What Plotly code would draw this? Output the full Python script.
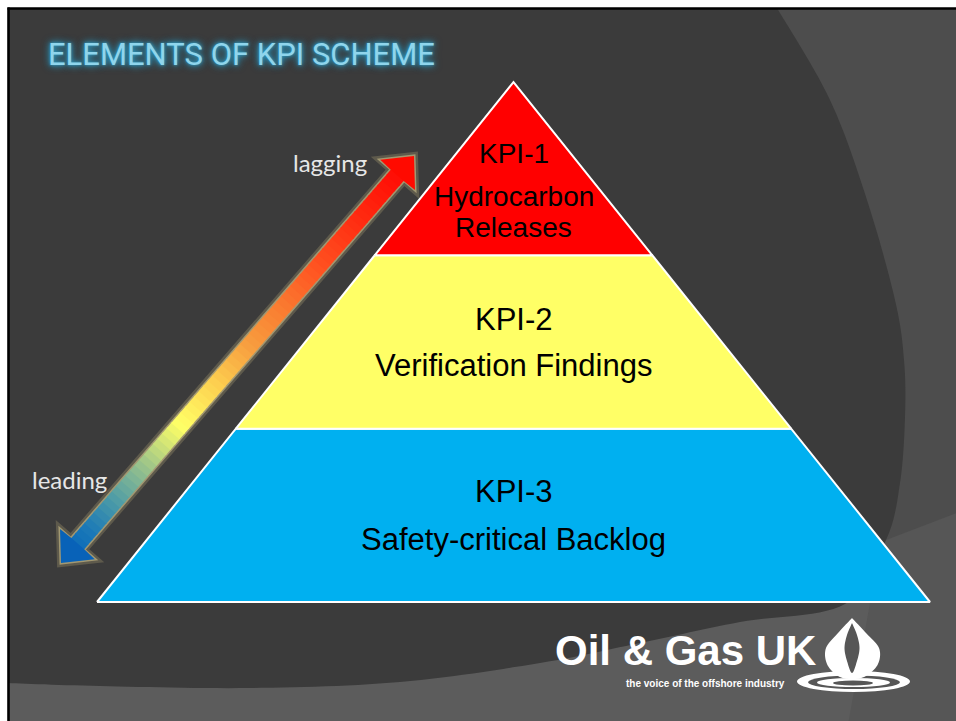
import numpy as np
import plotly.graph_objects as go

W, H = 956, 721

# ---------------- data ----------------
levels = ["KPI-1", "KPI-2", "KPI-3"]                      # top -> bottom
level_titles = [["Hydrocarbon", "Releases"],
                ["Verification Findings"],
                ["Safety-critical Backlog"]]
level_heights = [1, 1, 1]                                 # equal tiers
level_colors = ["#FF0000", "#FFFF66", "#00B0F0"]
title_text = "ELEMENTS OF KPI SCHEME"
arrow_labels = ["lagging", "leading"]
logo_name = "Oil & Gas UK"
logo_tagline = "the voice of the offshore industry"

# ---------------- style / placement (pixels) ----------------
PYR_LEFT, PYR_RIGHT, PYR_BASE, PYR_APEX = 97, 930, 602, 82
label_offsets = [[0.59, 0.342, 0.163], [0.627, 0.362], [0.635, 0.363]]
label_sizes = [[28, 28, 28], [31, 31], [31, 31]]

total = sum(level_heights)
cx = (PYR_LEFT + PYR_RIGHT) / 2
ppx = (PYR_RIGHT - PYR_LEFT) / 2
ppy = (PYR_BASE - PYR_APEX) / total
x_range = [(0 - cx) / ppx, (W - cx) / ppx]
y_range = [-(H - PYR_BASE) / ppy, PYR_BASE / ppy]


def px(x):
    return x / W


def py(y):
    return 1 - y / H


def ppath(points, close=True):
    s = "M " + " L ".join(f"{px(x):.5f},{py(y):.5f}" for x, y in points)
    return s + (" Z" if close else "")


def catmull(points, n=14):
    pts = np.array(points, dtype=float)
    ext = np.vstack([pts[0], pts, pts[-1]])
    out = []
    for i in range(1, len(ext) - 2):
        p0, p1, p2, p3 = ext[i - 1], ext[i], ext[i + 1], ext[i + 2]
        for t in np.linspace(0, 1, n, endpoint=False):
            t2, t3 = t * t, t * t * t
            pt = 0.5 * ((2 * p1) + (-p0 + p2) * t + (2 * p0 - 5 * p1 + 4 * p2 - p3) * t2
                        + (-p0 + 3 * p1 - 3 * p2 + p3) * t3)
            out.append(tuple(pt))
    out.append(tuple(pts[-1]))
    return out


def hex2rgb(h):
    h = h.lstrip("#")
    return np.array([int(h[i:i + 2], 16) for i in (0, 2, 4)], dtype=float)


shapes = []
# slide background
shapes.append(dict(type="rect", xref="paper", yref="paper", x0=px(8), y0=py(740), x1=px(980), y1=py(8),
                   fillcolor="#565656", line=dict(width=0), layer="below"))
# upper right band
shapes.append(dict(type="path", xref="paper", yref="paper", layer="below", line=dict(width=0),
                   fillcolor="#4d4d4d",
                   path=ppath([(700, 8), (970, 8), (970, 508), (886, 540), (700, 540)])))
# bottom lighter band
shapes.append(dict(type="path", xref="paper", yref="paper", layer="below", line=dict(width=0),
                   fillcolor="#5c5c5c",
                   path=ppath([(8, 560), (880, 560), (870, 603), (847, 730), (8, 730)])))
# dark swoosh
edge = catmull([(777, 8), (830, 100), (867, 200), (895, 300), (904, 360), (905, 417),
                (900, 483), (886, 540), (845, 604), (740, 622), (640, 643), (540, 663),
                (400, 682), (250, 688), (100, 686), (8, 683)])
shapes.append(dict(type="path", xref="paper", yref="paper", layer="below", line=dict(width=0),
                   fillcolor="#3b3b3b", path=ppath([(8, 8)] + edge)))
# black frame (left / top)
shapes.append(dict(type="line", xref="paper", yref="paper", layer="below", x0=px(8.5), x1=px(8.5),
                   y0=py(7.5), y1=py(740), line=dict(color="black", width=2.6)))
shapes.append(dict(type="line", xref="paper", yref="paper", layer="below", x0=px(7.5), x1=px(980),
                   y0=py(8.5), y1=py(8.5), line=dict(color="black", width=2.6)))

# ---------------- gradient double arrow ----------------
T = np.array([414.0, 156.0])
B = np.array([61.0, 563.0])
u = (T - B) / np.linalg.norm(T - B)
nrm = np.array([-u[1], u[0]])
L = np.linalg.norm(T - B)
hl, hw, sw = 25.0, 23.0, 8.5
outline = [T, T - hl * u + hw * nrm, T - hl * u + sw * nrm, B + hl * u + sw * nrm,
           B + hl * u + hw * nrm, B, B + hl * u - hw * nrm, B + hl * u - sw * nrm,
           T - hl * u - sw * nrm, T - hl * u - hw * nrm]
outline = [tuple(p) for p in outline]
shapes.append(dict(type="path", xref="paper", yref="paper", layer="below",
                   fillcolor="rgba(160,148,110,0.35)", line=dict(color="rgba(160,148,110,0.35)", width=8),
                   path=ppath(outline)))
shapes.append(dict(type="path", xref="paper", yref="paper", layer="below",
                   fillcolor="rgba(170,158,118,0.9)", line=dict(color="rgba(170,158,118,0.9)", width=3),
                   path=ppath(outline)))

stops = [(0.00, "#0060b8"), (0.08, "#1a78b8"), (0.15, "#4a9aa8"), (0.24, "#9cc48a"),
         (0.34, "#ffff66"), (0.44, "#fdd050"), (0.53, "#f7a040"), (0.63, "#fa7a30"),
         (0.72, "#ff5522"), (0.85, "#ff2a10"), (1.00, "#ff0000")]


def grad(t):
    for (t0, c0), (t1, c1) in zip(stops[:-1], stops[1:]):
        if t <= t1:
            f = (t - t0) / (t1 - t0)
            c = hex2rgb(c0) * (1 - f) + hex2rgb(c1) * f
            return "rgb(%d,%d,%d)" % tuple(np.round(c))
    return stops[-1][1]


N = 70
S0 = B + hl * u
S1 = T - hl * u
for i in range(N):
    a = S0 + (S1 - S0) * (i / N) - 0.6 * u
    b = S0 + (S1 - S0) * ((i + 1) / N) + 0.6 * u
    tm = (hl + (i + 0.5) / N * (L - 2 * hl)) / L
    quad = [tuple(a + sw * nrm), tuple(b + sw * nrm), tuple(b - sw * nrm), tuple(a - sw * nrm)]
    shapes.append(dict(type="path", xref="paper", yref="paper", layer="below",
                       fillcolor=grad(tm), line=dict(width=0), path=ppath(quad)))
shapes.append(dict(type="path", xref="paper", yref="paper", layer="below", fillcolor="#ff0a00",
                   line=dict(width=0),
                   path=ppath([tuple(T), tuple(T - hl * u + hw * nrm), tuple(T - hl * u - 0.6 * u + sw * nrm),
                               tuple(T - hl * u - 0.6 * u - sw * nrm), tuple(T - hl * u - hw * nrm)])))
shapes.append(dict(type="path", xref="paper", yref="paper", layer="below", fillcolor="#0862b8",
                   line=dict(width=0),
                   path=ppath([tuple(B), tuple(B + hl * u + hw * nrm), tuple(B + hl * u + 0.6 * u + sw * nrm),
                               tuple(B + hl * u + 0.6 * u - sw * nrm), tuple(B + hl * u - hw * nrm)])))

# ---------------- logo graphics ----------------
for (x0, x1, y0, y1, col) in [(797, 910, 671, 692, "white"), (808, 900, 675.5, 689, "#565656"),
                              (817, 890, 678, 687, "white"), (833, 873, 680.5, 685.5, "#565656")]:
    shapes.append(dict(type="circle", xref="paper", yref="paper", layer="below", x0=px(x0), x1=px(x1),
                       y0=py(y1), y1=py(y0), fillcolor=col, line=dict(width=0)))
drop = catmull([(852, 618), (866, 633), (879, 648), (878, 664), (866, 676), (852, 679),
                (838, 676), (827, 664), (826, 648), (838, 633), (852, 618)], n=10)
shapes.append(dict(type="path", xref="paper", yref="paper", layer="below", fillcolor="white",
                   line=dict(width=0), path=ppath(drop)))
lens = catmull([(852, 623), (857, 635), (859.5, 648), (857, 661), (852, 673),
                (847, 661), (844.5, 648), (847, 635), (852, 623)], n=10)
shapes.append(dict(type="path", xref="paper", yref="paper", layer="below", fillcolor="#565656",
                   line=dict(width=0), path=ppath(lens)))

# ---------------- pyramid ----------------
fig = go.Figure()
annotations = []
bounds = np.concatenate([[0], np.cumsum(level_heights[::-1])])  # bottom -> top
for k in range(len(levels)):
    idx = len(levels) - 1 - k
    y0, y1 = bounds[k], bounds[k + 1]
    w0, w1 = (total - y0) / total, (total - y1) / total
    fig.add_trace(go.Scatter(x=[-w0, w0, w1, -w1, -w0], y=[y0, y0, y1, y1, y0],
                             mode="lines", fill="toself", fillcolor=level_colors[idx],
                             line=dict(color="white", width=2), hoverinfo="skip", showlegend=False))
    texts = [levels[idx]] + level_titles[idx]
    for txt, off, fs in zip(texts, label_offsets[idx], label_sizes[idx]):
        annotations.append(dict(x=0, y=y0 + off * (y1 - y0), xref="x", yref="y", text=txt,
                                showarrow=False, xanchor="center", yanchor="middle",
                                font=dict(family="Liberation Sans", size=fs, color="black")))

# title
annotations.append(dict(x=px(46), y=py(55), xref="paper", yref="paper", text=title_text,
                        showarrow=False, xanchor="left", yanchor="middle",
                        font=dict(family="Roboto", size=31, color="#8fd5ec",
                                  shadow="0 0 3px #2f9cc4, 0 0 6px #2f9cc4, 0 0 9px #1f7fa3")))
# arrow labels
annotations.append(dict(x=px(291), y=py(162), xref="paper", yref="paper", text=arrow_labels[0],
                        showarrow=False, xanchor="left", yanchor="middle",
                        font=dict(family="Lato", size=24, color="#e6e6e6")))
annotations.append(dict(x=px(30), y=py(479), xref="paper", yref="paper", text=arrow_labels[1],
                        showarrow=False, xanchor="left", yanchor="middle",
                        font=dict(family="Lato", size=24, color="#e6e6e6")))
# logo text
annotations.append(dict(x=px(553), y=py(650), xref="paper", yref="paper", text="<b>%s</b>" % logo_name,
                        showarrow=False, xanchor="left", yanchor="middle",
                        font=dict(family="Liberation Sans", size=42, color="white")))
annotations.append(dict(x=px(624), y=py(683), xref="paper", yref="paper", text="<b>%s</b>" % logo_tagline,
                        showarrow=False, xanchor="left", yanchor="middle",
                        font=dict(family="Liberation Sans", size=10, color="white")))

fig.update_layout(width=W, height=H, margin=dict(l=0, r=0, t=0, b=0),
                  paper_bgcolor="white", plot_bgcolor="rgba(0,0,0,0)",
                  xaxis=dict(visible=False, range=x_range, fixedrange=True),
                  yaxis=dict(visible=False, range=y_range, fixedrange=True),
                  shapes=shapes, annotations=annotations, showlegend=False)
fig.write_html("out.html", config={"displayModeBar": False},
               post_script="document.body.style.margin='0';document.body.style.overflow='hidden';")
